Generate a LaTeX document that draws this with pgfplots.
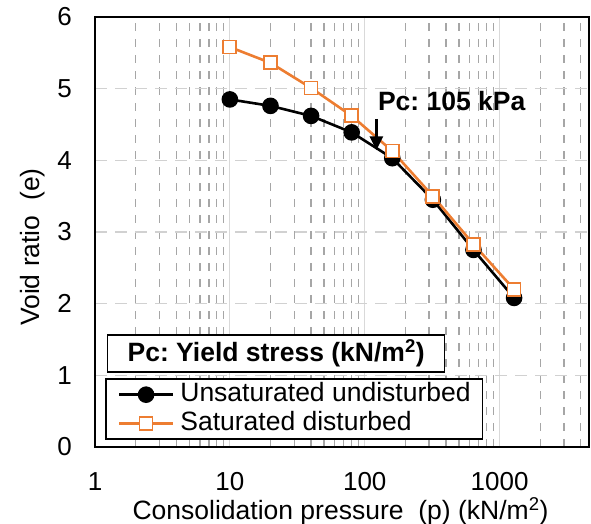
\documentclass[border=0pt]{standalone}
\usepackage{pgfplots}
\pgfplotsset{compat=1.18}
\usepackage{fontspec}
\setmainfont{Liberation Sans}
\usetikzlibrary{arrows.meta}
\definecolor{sorange}{HTML}{ED7D31}
\frenchspacing
\begin{document}
\begin{tikzpicture}[x=1pt,y=1pt]
\useasboundingbox (0,0) rectangle (591,524);
\begin{axis}[
  at={(95pt,77pt)}, anchor=south west,
  scale only axis, width=494pt, height=430pt,
  xmode=log, xmin=1, xmax=4600, ymin=0, ymax=6,
  ytick={0,1,2,3,4,5,6},
  xtick={1,10,100,1000}, xticklabels={1,10,100,1000},
  minor xtick={2,3,4,5,6,7,8,9,20,30,40,50,60,70,80,90,200,300,400,500,600,700,800,900,2000,3000,4000},
  xmajorgrids, xminorgrids, ymajorgrids,
  major x grid style={solid, color=black!15, line width=1.2pt},
  minor x grid style={dash pattern=on 8pt off 8pt, color=black!35, line width=1.3pt},
  major y grid style={dash pattern=on 12pt off 8pt, color=black!18, line width=1.5pt},
  major tick length=0pt, minor tick length=0pt,
  axis line style={line width=1.6pt},
  /pgf/number format/assume math mode=true,
  tick label style={font=\fontsize{26}{31}\selectfont, inner sep=0pt},
  xticklabel style={yshift=-25pt},
  yticklabel style={xshift=-23pt},
  xlabel={Consolidation pressure\ \ (p) (kN/m\textsuperscript{2})},
  ylabel={Void ratio\ \ (e)},
  label style={font=\fontsize{26.5}{31}\selectfont, inner sep=0pt},
  xlabel style={at={(axis description cs:0.497,-0.149)}, anchor=center},
  ylabel style={at={(axis description cs:-0.127,0.465)}, anchor=center},
  legend style={at={(rel axis cs:0.0202,0.0163)}, anchor=south west, draw=black, line width=1.6pt, fill=white,
    font=\fontsize{26.5}{31}\selectfont, row sep=5pt, column sep=6pt, inner xsep=12pt, inner ysep=3.5pt,
    nodes={inner sep=0pt, text height=19pt, text depth=5pt}},
  legend cell align=left,
  legend image code/.code={\draw[mark repeat=2,mark phase=2] plot coordinates {(0pt,0pt) (27pt,0pt) (54pt,0pt)};},
  clip=false,
]
\addplot[black, line width=2.6pt, mark=*, mark size=7pt] coordinates {
 (10,4.85) (20,4.76) (40,4.62) (80,4.39) (160,4.03) (320,3.45) (640,2.75) (1280,2.08)};
\addlegendentry{Unsaturated undisturbed}
\addplot[sorange, line width=2.6pt, mark=square*, mark size=6.5pt, mark options={fill=white, line width=1.8pt, solid}] coordinates {
 (10,5.58) (20,5.36) (40,5.01) (80,4.62) (160,4.13) (320,3.50) (640,2.83) (1280,2.20)};
\addlegendentry{Saturated disturbed}
\draw[line width=3pt, -{Triangle[length=14pt,width=13pt]}] (axis cs:122,4.58) -- (axis cs:122,4.14);
\node[anchor=west, inner sep=0pt, font=\bfseries\fontsize{26.5}{31}\selectfont] at (axis cs:125,4.83) {Pc: 105 kPa};
\node[draw=black, line width=1.6pt, fill=white, minimum width=337pt, minimum height=37pt, inner sep=0pt,
  font=\bfseries\fontsize{26.5}{31}\selectfont] at (rel axis cs:0.3667,0.2174) {Pc: Yield stress (kN/m\textsuperscript{2})};
\end{axis}
\end{tikzpicture}
\end{document}
